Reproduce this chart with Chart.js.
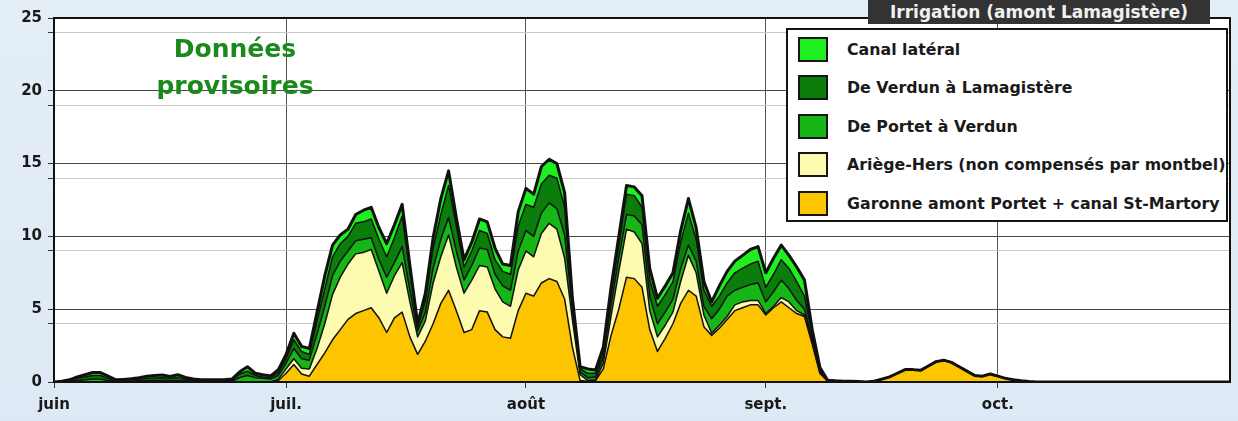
<!DOCTYPE html>
<html lang="fr">
<head>
<meta charset="utf-8">
<script src="https://cdn.jsdelivr.net/npm/chart.js@4/dist/chart.umd.min.js"></script>
<style>
    html, body { margin: 0; padding: 0; }
    body {
        width: 1238px; height: 421px; position: relative; overflow: hidden;
        background: linear-gradient(#e4eef7, #dde9f4);
        font-family: 'DejaVu Sans', sans-serif;
    }
    #chart { position: absolute; left: 0; top: 0; }
    #stamp {
        position: absolute; left: 140px; top: 30px; width: 190px;
        text-align: center; color: #1a8a1a; font-weight: bold;
        font-size: 25px; line-height: 37px;
    }
    #title {
        position: absolute; left: 868px; top: 0; width: 342px; height: 24px;
        background: #333; color: #f0f0f0; font-size: 17px; font-weight: bold;
        line-height: 24px; text-align: center;
    }
    #legend {
        position: absolute; left: 786px; top: 28px; width: 442px; height: 194px;
        box-sizing: border-box; border: 2px solid #151515; background: #fff;
        overflow: hidden;
    }
    .row { position: absolute; left: 10px; height: 26px; display: flex; align-items: center; }
    .swatch { width: 30px; height: 25px; box-sizing: border-box; border: 2px solid #151515; }
    .label { margin-left: 19px; font-size: 15.8px; font-weight: bold; color: #1a1a1a; white-space: nowrap; }
</style>
</head>
<body>
<canvas id="chart" width="1238" height="421"></canvas>
<div id="stamp">Données<br>provisoires</div>
<div id="legend"></div>
<div id="title">Irrigation (amont Lamagistère)</div>
<script>
// day 0 = 1 June, day 152 = 31 October
const monthStarts = [0, 30, 61, 92, 122];
const monthLabels = ['juin', 'juil.', 'août', 'sept.', 'oct.'];
const yTicks = [0, 5, 10, 15, 20, 25];
const yMinorLines = [4, 9, 14, 19, 24];

// daily values, one row per month (juin, juil., août, sept., oct.)
const garonne = [
    0,0,0,0,0,0,0,0,0,0, 0,0,0,0,0,0,0,0,0,0, 0,0,0,0,0,0,0,0,0,0.1,
    0.6,1.2,0.55,0.4,1.2,2.0,2.9,3.6,4.3,4.7, 4.9,5.1,4.4,3.4,4.4,4.8,3.1,1.9,2.8,4.0, 5.4,6.3,4.9,3.4,3.6,4.9,4.8,3.6,3.1,3.0, 4.9,
    6.1,5.9,6.8,7.1,6.9,5.7,2.4,0.1,0.05,0.1, 0.9,3.2,5.0,7.2,7.1,6.5,3.6,2.1,3.0,4.0, 5.4,6.3,5.9,3.8,3.2,3.7,4.3,4.9,5.1,5.3, 5.3,
    4.6,5.1,5.5,5.1,4.7,4.5,2.6,0.6,0.05,0.02, 0,0,0,0,0.05,0.2,0.35,0.6,0.85,0.85, 0.8,1.1,1.4,1.5,1.35,1.05,0.75,0.45,0.4,0.55,
    0.4,0.25,0.15,0.08,0.03,0,0,0,0,0, 0,0,0,0,0,0,0,0,0,0, 0,0,0,0,0,0,0,0,0,0, 0
];
const ariege = [
    0,0,0,0,0,0,0,0,0,0, 0,0,0,0,0,0,0,0,0,0, 0,0,0,0,0,0,0,0,0,0.1,
    0.3,0.4,0.4,0.5,1.1,2.0,3.1,3.6,3.8,4.1, 4.0,4.0,3.2,2.7,2.9,3.4,2.4,1.2,1.4,2.8, 3.2,3.8,3.0,2.7,3.4,3.1,3.1,2.8,2.4,2.2, 2.8,
    2.9,2.7,3.4,3.8,3.6,2.8,1.9,0.4,0.05,0.05, 0.4,1.3,2.6,3.3,3.2,3.0,1.3,1.0,0.9,0.8, 1.5,2.4,1.6,0.8,0.15,0.2,0.2,0.4,0.4,0.3, 0.3,
    0.1,0.1,0.3,0.4,0.2,0.1,0.1,0,0,0, 0,0,0,0,0,0,0,0,0,0, 0,0,0,0,0,0,0,0,0,0,
    0,0,0,0,0,0,0,0,0,0, 0,0,0,0,0,0,0,0,0,0, 0,0,0,0,0,0,0,0,0,0, 0
];
const portet = [
    0,0,0.05,0.1,0.15,0.2,0.2,0.1,0.05,0.05, 0.05,0.1,0.1,0.1,0.1,0.1,0.1,0.1,0.05,0.05, 0.05,0.05,0.05,0.05,0.3,0.45,0.3,0.25,0.2,0.25,
    0.4,0.7,0.65,0.6,1.0,1.2,1.3,1.1,0.9,0.9, 0.9,0.8,0.8,1.1,0.9,1.1,0.8,0.4,0.6,1.0, 1.2,1.2,1.1,0.9,1.0,1.2,1.2,1.0,1.1,1.1, 1.3,
    1.4,1.4,1.4,1.4,1.4,1.6,0.7,0.2,0.2,0.2, 0.4,0.8,0.9,1.0,1.1,1.3,1.0,0.9,0.9,0.9, 0.9,0.7,0.8,0.6,1.0,1.1,1.4,1.0,1.0,1.1, 1.2,
    0.8,1.0,1.2,0.9,0.7,0.4,0.2,0.1,0.02,0.02, 0.02,0.02,0.01,0,0,0,0,0,0,0, 0,0,0,0,0,0,0,0,0,0,
    0,0,0,0,0,0,0,0,0,0, 0,0,0,0,0,0,0,0,0,0, 0,0,0,0,0,0,0,0,0,0, 0
];
const verdun = [
    0,0,0.05,0.15,0.2,0.25,0.25,0.15,0.05,0.07, 0.1,0.1,0.15,0.18,0.2,0.15,0.2,0.1,0.07,0.05, 0.05,0.05,0.05,0.07,0.25,0.3,0.15,0.1,0.1,0.2,
    0.3,0.6,0.5,0.4,0.9,1.2,1.3,1.2,1.0,1.2, 1.2,1.3,1.4,1.4,1.7,2.1,1.3,0.3,0.8,1.4, 1.7,2.2,1.7,0.9,1.0,1.2,1.1,1.0,1.0,1.1, 1.7,
    1.8,2.0,2.0,1.9,2.1,1.9,0.5,0.2,0.3,0.25, 0.4,0.7,0.9,1.4,1.4,1.2,1.1,1.2,1.2,1.2, 1.8,2.2,1.5,1.1,0.85,0.9,0.9,1.2,1.3,1.4, 1.5,
    1.0,1.2,1.4,1.4,1.3,0.9,0.3,0.1,0.03,0.02, 0.02,0.01,0.01,0,0,0,0,0,0,0, 0,0,0,0,0,0,0,0,0,0,
    0,0,0,0,0,0,0,0,0,0, 0,0,0,0,0,0,0,0,0,0, 0,0,0,0,0,0,0,0,0,0, 0
];
const canal = [
    0,0.05,0.05,0.1,0.15,0.2,0.2,0.15,0.05,0.06, 0.07,0.1,0.15,0.17,0.18,0.13,0.2,0.12,0.08,0.05, 0.05,0.05,0.05,0.08,0.15,0.3,0.15,0.15,0.12,0.2,
    0.3,0.45,0.35,0.4,0.6,0.9,0.8,0.6,0.5,0.6, 0.8,0.8,0.8,0.9,0.9,0.8,0.4,0.2,0.5,0.7, 1.1,1.0,0.6,0.5,0.6,0.8,0.8,0.8,0.5,0.6, 1.0,
    1.1,0.9,1.2,1.1,1.0,1.0,0.3,0.15,0.3,0.22, 0.3,0.5,0.6,0.6,0.6,0.8,0.8,0.55,0.6,0.6, 0.8,1.0,0.8,0.6,0.3,0.7,0.8,0.8,0.9,1.0, 1.0,
    1.0,1.1,1.0,0.9,1.0,1.1,0.4,0.2,0.02,0.02, 0.02,0.02,0.01,0,0,0,0,0,0,0, 0,0,0,0,0,0,0,0,0,0,
    0,0,0,0,0,0,0,0,0,0, 0,0,0,0,0,0,0,0,0,0, 0,0,0,0,0,0,0,0,0,0, 0
];

// bottom of the stack first
const seriesNames = [
    'Garonne amont Portet + canal St-Martory',
    'Ariège-Hers (non compensés par montbel)',
    'De Portet à Verdun',
    'De Verdun à Lamagistère',
    'Canal latéral'
];
const seriesValues = [garonne, ariege, portet, verdun, canal];
const seriesColors = ['#fcc500', '#fdfbb0', '#16b616', '#0b7d0b', '#1eef1e'];

const datasets = seriesValues.map((values, i) => ({
    label: seriesNames[i],
    data: values.map((v, d) => ({ x: d, y: v })),
    backgroundColor: seriesColors[i],
    borderColor: '#111',
    borderWidth: i === seriesValues.length - 1 ? 3 : 1.5,
    borderJoinStyle: 'round',
    fill: i === 0 ? 'origin' : '-1',
    pointRadius: 0,
    tension: 0
}));

// Legend (top of the stack first)
const legend = document.getElementById('legend');
for (let i = seriesNames.length - 1, row = 0; i >= 0; i--, row++) {
    const div = document.createElement('div');
    div.className = 'row';
    div.style.top = (6 + row * 38.5) + 'px';
    div.innerHTML = '<div class="swatch" style="background:' + seriesColors[i] + '"></div>' +
        '<div class="label">' + seriesNames[i] + '</div>';
    legend.appendChild(div);
}

const plotFrame = {
    id: 'plotFrame',
    beforeDraw(chart) {
        const a = chart.chartArea;
        chart.ctx.save();
        chart.ctx.fillStyle = '#fff';
        chart.ctx.fillRect(a.left, a.top, a.right - a.left, a.bottom - a.top);
        chart.ctx.restore();
    },
    afterDatasetsDraw(chart) {
        const a = chart.chartArea;
        const c = chart.ctx;
        c.save();
        c.strokeStyle = '#111';
        c.lineWidth = 2;
        c.strokeRect(a.left, a.top, a.right - a.left, a.bottom - a.top);
        c.restore();
    }
};

const tickFont = { family: "'DejaVu Sans', sans-serif", size: 15, weight: 'bold' };

new Chart(document.getElementById('chart').getContext('2d'), {
    type: 'line',
    data: { datasets },
    options: {
        responsive: false,
        animation: false,
        layout: { padding: { top: 18, right: 8, left: 0, bottom: 0 } },
        plugins: {
            legend: { display: false },
            tooltip: { enabled: false },
            filler: { drawTime: 'beforeDatasetsDraw' }
        },
        scales: {
            x: {
                type: 'linear',
                min: 0,
                max: 152,
                afterBuildTicks: s => { s.ticks = monthStarts.map(v => ({ value: v })); },
                afterFit: s => { s.height = 39; },
                ticks: {
                    autoSkip: false,
                    maxRotation: 0,
                    padding: 8,
                    color: '#1a1a1a',
                    font: tickFont,
                    callback: v => monthLabels[monthStarts.indexOf(v)]
                },
                grid: { color: '#555', tickLength: 6, tickColor: '#333' },
                border: { display: false }
            },
            y: {
                stacked: true,
                min: 0,
                max: 25,
                afterBuildTicks: s => {
                    s.ticks = yTicks.concat(yMinorLines).sort((a, b) => a - b).map(v => ({ value: v }));
                },
                afterFit: s => { s.width = 54; },
                ticks: {
                    padding: 6,
                    color: '#1a1a1a',
                    font: tickFont,
                    callback: v => yTicks.includes(v) ? String(v) : ''
                },
                grid: {
                    color: c => yTicks.includes(c.tick.value) ? '#4a4a4a' : '#c9c9c9',
                    tickLength: 6,
                    tickColor: '#333'
                },
                border: { display: false }
            }
        }
    },
    plugins: [plotFrame]
});
</script>
</body>
</html>
